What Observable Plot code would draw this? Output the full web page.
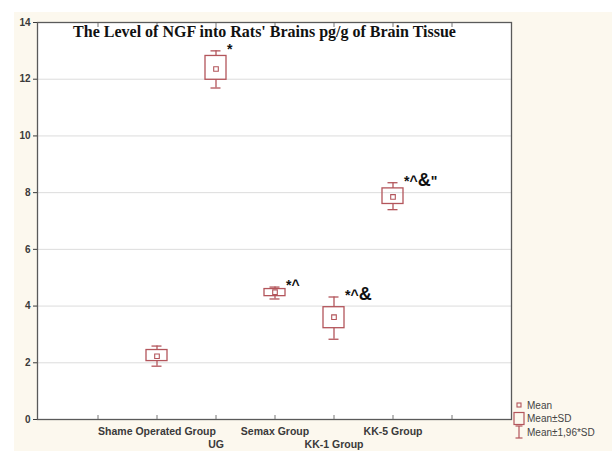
<!DOCTYPE html>
<html>
<head>
<meta charset="utf-8">
<script src="https://cdn.jsdelivr.net/npm/d3@7"></script>
<script src="https://cdn.jsdelivr.net/npm/@observablehq/plot@0.6"></script>
<style>
  html, body { margin: 0; padding: 0; background: #ffffff; }
  #chart { width: 612px; height: 451px; }
</style>
</head>
<body>
<div id="chart"></div>
<script>
// ---- data ----
const slots = [" ", "Shame Operated Group", "UG", "Semax Group", "KK-1 Group", "KK-5 Group", "  "];
const groups = ["Shame Operated Group", "UG", "Semax Group", "KK-1 Group", "KK-5 Group"];
const means  = [2.23, 12.36, 4.49, 3.61, 7.85];
const sdLow  = [2.06, 11.98, 4.35, 3.22, 7.60];
const sdHigh = [2.45, 12.82, 4.60, 3.96, 8.15];
const ciLow  = [1.88, 11.69, 4.25, 2.83, 7.40];
const ciHigh = [2.59, 13.00, 4.67, 4.32, 8.35];
const signs  = ["", "*", "*^", "*^&", "*^&\""];
const yTicks = [0, 2, 4, 6, 8, 10, 12, 14];
const labelsRow1 = ["Shame Operated Group", "Semax Group", "KK-5 Group"];
const labelsRow2 = ["UG", "KK-1 Group"];
const title = "The Level of NGF into Rats' Brains pg/g of Brain Tissue";
const legendItems = ["Mean", "Mean\u00B1SD", "Mean\u00B11,96*SD"];

const rows = groups.map((g, i) => ({
  g, mean: means[i], lo: sdLow[i], hi: sdHigh[i], clo: ciLow[i], chi: ciHigh[i], sign: signs[i]
}));

const RED = "#b3555b";
const AX = "#3a3a3a";

const plot = Plot.plot({
  width: 612,
  height: 451,
  marginLeft: 37,
  marginRight: 101,
  marginTop: 22,
  marginBottom: 32,
  style: { fontFamily: "Arial, 'Liberation Sans', sans-serif", background: "transparent" },
  x: { type: "band", domain: slots, paddingInner: 0.645, paddingOuter: 0.8225, label: null },
  y: { domain: [0, 14], label: null },
  marks: [
    Plot.frame({ fill: "white", stroke: "none" }),
    Plot.gridY(yTicks, { stroke: "#dcdcdc", strokeOpacity: 1, strokeWidth: 1 }),
    Plot.frame({ stroke: "#5a5a5a", strokeWidth: 1.3 }),
    // y axis
    Plot.axisY({ ticks: yTicks, tickSize: 4, tickPadding: 3, fontSize: 10, fontWeight: "bold", fill: AX, stroke: AX, label: null }),
    // x ticks (inside, bottom and top)
    Plot.axisX({ ticks: slots, tickSize: -4, tickFormat: () => "", stroke: "#777", label: null }),
    Plot.axisX({ ticks: slots, anchor: "top", tickSize: -4, tickFormat: () => "", stroke: "#777", label: null }),
    // x labels in two rows
    Plot.axisX({ ticks: labelsRow1, tickSize: 0, tickPadding: 8, fontSize: 10.5, fontWeight: "bold", fill: AX, label: null }),
    Plot.axisX({ ticks: labelsRow2, tickSize: 0, tickPadding: 21, fontSize: 10.5, fontWeight: "bold", fill: AX, label: null }),
    // whiskers (mean ± 1.96*SD)
    Plot.ruleX(rows, { x: "g", y1: "clo", y2: "lo", stroke: RED, strokeWidth: 1.3 }),
    Plot.ruleX(rows, { x: "g", y1: "hi", y2: "chi", stroke: RED, strokeWidth: 1.3 }),
    Plot.tickY(rows, { x: "g", y: "clo", stroke: RED, strokeWidth: 1.3, insetLeft: 5.5, insetRight: 5.5 }),
    Plot.tickY(rows, { x: "g", y: "chi", stroke: RED, strokeWidth: 1.3, insetLeft: 5.5, insetRight: 5.5 }),
    // boxes (mean ± SD)
    Plot.rectY(rows, { x: "g", y1: "lo", y2: "hi", fill: "none", stroke: RED, strokeWidth: 1.3 }),
    // mean markers
    Plot.dot(rows, { x: "g", y: "mean", symbol: "square", r: 2.6, stroke: RED, strokeWidth: 1.1, fill: "none" }),
    // significance marks
    Plot.text(rows, { x: "g", y: "chi", text: "sign", dx: 11, dy: -1, textAnchor: "start", fontSize: 13, fontWeight: "bold", fill: "#111" }),
    // title
    Plot.text([title], { frameAnchor: "top", dx: -10, dy: 3, lineAnchor: "top", fontSize: 16, fontWeight: "bold", fill: "#111",
      fontFamily: "'Liberation Serif', 'Times New Roman', serif" })
  ]
});

const svg = d3.select(plot);
// cream figure background
svg.insert("rect", ":first-child")
  .attr("x", 14).attr("y", 12).attr("width", 612 - 14).attr("height", 451 - 12)
  .attr("fill", "#fcf8ee");

// make the "&" in the significance marks larger, as in the reference
svg.selectAll("text").filter(function () { return /^\*/.test(this.textContent); }).each(function () {
  const t = d3.select(this);
  const s = this.textContent;
  t.text(null);
  for (const ch of s) {
    t.append("tspan").attr("font-size", ch === "&" ? 18 : 14).text(ch);
  }
});

// legend (bottom right, outside the plot frame)
const lg = svg.append("g").attr("font-family", "Arial, 'Liberation Sans', sans-serif").attr("font-size", 10)
  .attr("fill", "#444").attr("text-anchor", "start");
const lx = 519, ly0 = 405, lstep = 13.5;
lg.append("rect").attr("x", lx - 2).attr("y", ly0 - 2).attr("width", 4).attr("height", 4)
  .attr("fill", "none").attr("stroke", RED).attr("stroke-width", 1.1);
lg.append("rect").attr("x", lx - 5).attr("y", ly0 + lstep - 6).attr("width", 10).attr("height", 12)
  .attr("fill", "none").attr("stroke", RED).attr("stroke-width", 1.2);
const wy = ly0 + 2 * lstep;
lg.append("line").attr("x1", lx).attr("x2", lx).attr("y1", wy - 6).attr("y2", wy + 6).attr("stroke", RED).attr("stroke-width", 1.2);
lg.append("line").attr("x1", lx - 3.5).attr("x2", lx + 3.5).attr("y1", wy - 6).attr("y2", wy - 6).attr("stroke", RED).attr("stroke-width", 1.2);
lg.append("line").attr("x1", lx - 3.5).attr("x2", lx + 3.5).attr("y1", wy + 6).attr("y2", wy + 6).attr("stroke", RED).attr("stroke-width", 1.2);
legendItems.forEach((t, i) => {
  lg.append("text").attr("x", lx + 8).attr("y", ly0 + i * lstep).attr("dy", "0.35em").text(t);
});

document.getElementById("chart").appendChild(plot);
</script>
</body>
</html>
